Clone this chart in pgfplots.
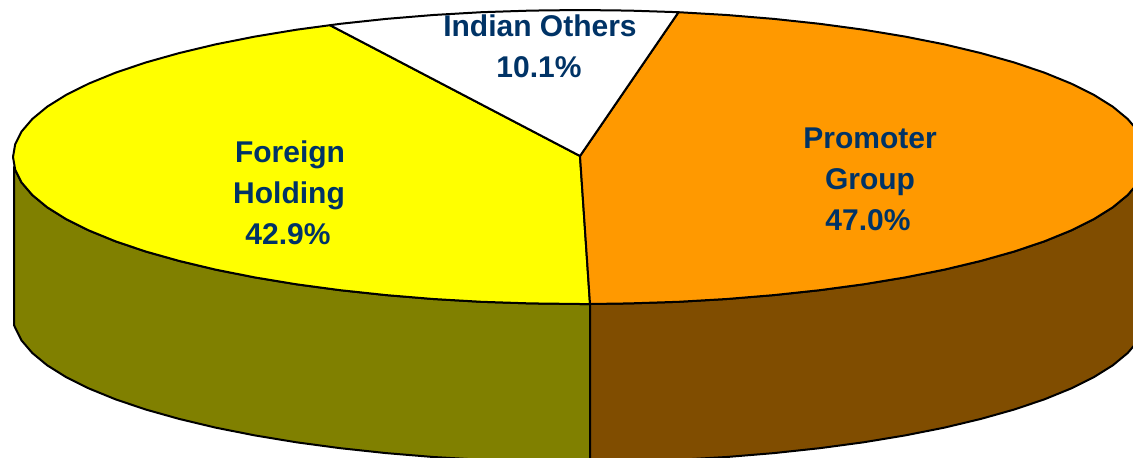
\documentclass[border=0pt]{standalone}
\usepackage{fontspec}
\setmainfont{Liberation Sans}
\usepackage{pgfplots}
\pgfplotsset{compat=1.18}
\definecolor{pieorange}{RGB}{255,153,0}
\definecolor{pieyellow}{RGB}{255,255,0}
\definecolor{sideolive}{RGB}{128,128,0}
\definecolor{sidebrown}{RGB}{128,77,0}
\definecolor{labelnavy}{RGB}{0,51,102}
\newcommand{\lab}[2]{\node[anchor=base,text=labelnavy,font=\fontsize{30}{36}\selectfont\bfseries,inner sep=0pt] at #1 {#2};}
\begin{document}
\begin{tikzpicture}
\useasboundingbox (0,0) rectangle (1133pt,458pt);
\begin{axis}[
  at={(0,0)}, anchor=south west,
  scale only axis, width=1133pt, height=458pt,
  xmin=0, xmax=1133, ymin=0, ymax=458, y dir=reverse,
  axis lines=none, clip=true,
]
% side of the foreign holding slice
\addplot[draw=black, line width=2pt, fill=sideolive, line join=round] coordinates {
 (14,167) (15.2,169.8) (21.6,182.5) (32.3,195) (47.2,207.3) (66.1,219.1) (89,230.5) (115.5,241.3) (145.7,251.5) (179.1,260.9) (215.5,269.6) (254.8,277.4) (296.5,284.3) (340.4,290.2) (386.1,295.1) (433.3,299) (481.5,301.8) (530.6,303.4) (580,304) (590,304)
 (590,462) (580,462) (530.6,461.4) (481.5,459.8) (433.3,457) (386.1,453.1) (340.4,448.2) (296.5,442.3) (254.8,435.4) (215.5,427.6) (179.1,418.9) (145.7,409.5) (115.5,399.3) (89,388.5) (66.1,377.1) (47.2,365.3) (32.3,353) (21.6,340.5) (15.2,327.8) (14,325)
} -- cycle;
% side of the promoter group slice
\addplot[draw=black, line width=2pt, fill=sidebrown, line join=round] coordinates {
 (590,304) (629.4,303.4) (678.5,301.8) (726.7,299) (773.9,295.1) (819.6,290.2) (863.5,284.3) (905.2,277.4) (944.5,269.6) (980.9,260.9) (1014.3,251.5) (1044.5,241.3) (1071,230.5) (1093.9,219.1) (1112.8,207.3) (1127.7,195) (1138.4,182.5) (1144.8,169.8) (1147,157)
 (1147,315) (1144.8,327.8) (1138.4,340.5) (1127.7,353) (1112.8,365.3) (1093.9,377.1) (1071,388.5) (1044.5,399.3) (1014.3,409.5) (980.9,418.9) (944.5,427.6) (905.2,435.4) (863.5,442.3) (819.6,448.2) (773.9,453.1) (726.7,457) (678.5,459.8) (629.4,461.4) (590,462)
} -- cycle;
% top: foreign holding
\addplot[draw=black, line width=2pt, fill=pieyellow, line join=round] coordinates {
 (580,156) (330,25.2) (296.5,29.7) (254.8,36.6) (215.5,44.4) (179.1,53.1) (145.7,62.5) (115.5,72.7) (89,83.5) (66.1,94.9) (47.2,106.7) (32.3,119) (21.6,131.5) (15.2,144.2) (13,157) (15.2,169.8) (21.6,182.5) (32.3,195) (47.2,207.3) (66.1,219.1) (89,230.5) (115.5,241.3) (145.7,251.5) (179.1,260.9) (215.5,269.6) (254.8,277.4) (296.5,284.3) (340.4,290.2) (386.1,295.1) (433.3,299) (481.5,301.8) (530.6,303.4) (580,304) (590,304)
} -- cycle;
% top: promoter group
\addplot[draw=black, line width=2pt, fill=pieorange, line join=round] coordinates {
 (580,156) (678.5,12.2) (726.7,15) (773.9,18.9) (819.6,23.8) (863.5,29.7) (905.2,36.6) (944.5,44.4) (980.9,53.1) (1014.3,62.5) (1044.5,72.7) (1071,83.5) (1093.9,94.9) (1112.8,106.7) (1127.7,119) (1138.4,131.5) (1144.8,144.2) (1147,157) (1144.8,169.8) (1138.4,182.5) (1127.7,195) (1112.8,207.3) (1093.9,219.1) (1071,230.5) (1044.5,241.3) (1014.3,251.5) (980.9,260.9) (944.5,269.6) (905.2,277.4) (863.5,284.3) (819.6,290.2) (773.9,295.1) (726.7,299) (678.5,301.8) (629.4,303.4) (590,304)
} -- cycle;
% top: indian others, white slice
\addplot[draw=black, line width=2pt, fill=white, line join=round] coordinates {
 (580,156) (330,25.2) (340.4,23.8) (386.1,18.9) (433.3,15) (481.5,12.2) (530.6,10.6) (580,10) (629.4,10.6) (678.5,12.2)
} -- cycle;
\lab{(axis cs:540,36)}{Indian Others}
\lab{(axis cs:539,77)}{10.1\%}
\lab{(axis cs:290,162)}{Foreign}
\lab{(axis cs:289,203)}{Holding}
\lab{(axis cs:288,244)}{42.9\%}
\lab{(axis cs:870,148)}{Promoter}
\lab{(axis cs:870,189)}{Group}
\lab{(axis cs:868,230)}{47.0\%}
\end{axis}
\end{tikzpicture}
\end{document}
